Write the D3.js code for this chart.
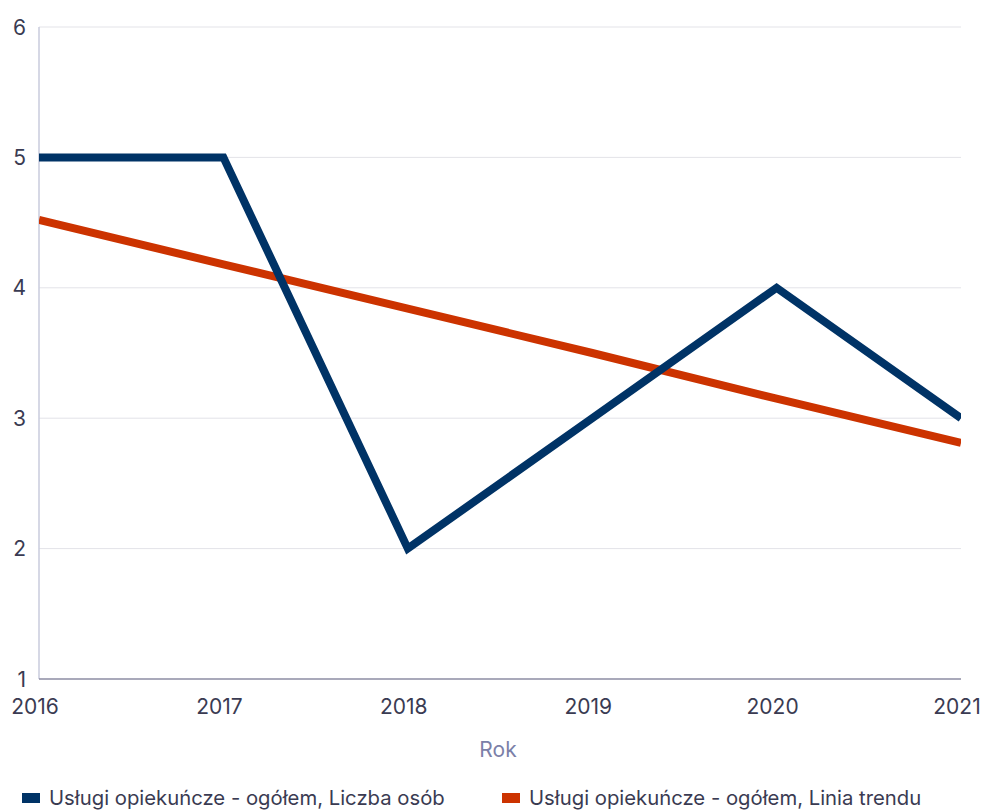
<!DOCTYPE html>
<html><head><meta charset="utf-8">
<script src="https://cdn.jsdelivr.net/npm/d3@7"></script>
<style>body{margin:0;background:#fff}svg{display:block;font-family:Inter,sans-serif}</style>
</head><body>
<svg id="c" width="983" height="810"></svg>
<script>
const years = [2016, 2017, 2018, 2019, 2020, 2021];
const liczbaOsob = [5, 5, 2, 3, 4, 3];
const liniaTrendu = [4.52, 4.18, 3.84, 3.50, 3.15, 2.81];
const yTicks = [1, 2, 3, 4, 5, 6];
const seriesNames = ["Usługi opiekuńcze - ogółem, Liczba osób", "Usługi opiekuńcze - ogółem, Linia trendu"];
const colors = ["#003366", "#cc3300"];

const svg = d3.select("#c");
const L = 39, R = 961, T = 27, B = 679;
const x = d3.scaleLinear().domain([2016, 2021]).range([L, R]);
const y = d3.scaleLinear().domain([1, 6]).range([B, T]);

svg.append("g").selectAll("line").data(yTicks.filter(d => d > 1)).join("line")
  .attr("x1", L).attr("x2", R).attr("y1", d => y(d)).attr("y2", d => y(d))
  .attr("stroke", "#e3e3e8").attr("stroke-width", 1);

svg.append("line").attr("x1", L).attr("x2", L).attr("y1", T).attr("y2", B)
  .attr("stroke", "#c9cbdd").attr("stroke-width", 1.5);
svg.append("line").attr("x1", L).attr("x2", R).attr("y1", B).attr("y2", B)
  .attr("stroke", "#8c8ca3").attr("stroke-width", 1.5);

svg.append("g").selectAll("text").data(yTicks).join("text")
  .attr("x", 26).attr("y", d => y(d)).attr("dy", "0.36em")
  .attr("text-anchor", "end").attr("font-size", 21).attr("fill", "#3a3b52")
  .text(d => d);

svg.append("g").selectAll("text").data(years).join("text")
  .attr("x", d => x(d) - 4).attr("y", 714)
  .attr("text-anchor", "middle").attr("font-size", 21).attr("fill", "#3a3b52")
  .text(d => d);

svg.append("text").attr("x", 498).attr("y", 757).attr("text-anchor", "middle")
  .attr("font-size", 21).attr("fill", "#7b80a8").text("Rok");

svg.append("clipPath").attr("id", "clip").append("rect")
  .attr("x", L).attr("y", 0).attr("width", R - L).attr("height", 810);

const line = d3.line().x((d, i) => x(years[i])).y(d => y(d));
const g = svg.append("g").attr("clip-path", "url(#clip)");
g.append("path").datum(liniaTrendu).attr("d", line).attr("fill", "none")
  .attr("stroke", colors[1]).attr("stroke-width", 8);
g.append("path").datum(liczbaOsob).attr("d", line).attr("fill", "none")
  .attr("stroke", colors[0]).attr("stroke-width", 8).attr("stroke-linejoin", "miter");

const legX = [22, 502];
const lg = svg.append("g").selectAll("g").data(seriesNames).join("g")
  .attr("transform", (d, i) => `translate(${legX[i]},0)`);
lg.append("rect").attr("x", 0).attr("y", 793).attr("width", 18).attr("height", 10)
  .attr("fill", (d, i) => colors[i]);
lg.append("text").attr("x", 27).attr("y", 805).attr("font-size", 20.3).attr("fill", "#3a3b52")
  .text(d => d);
</script>
</body></html>
